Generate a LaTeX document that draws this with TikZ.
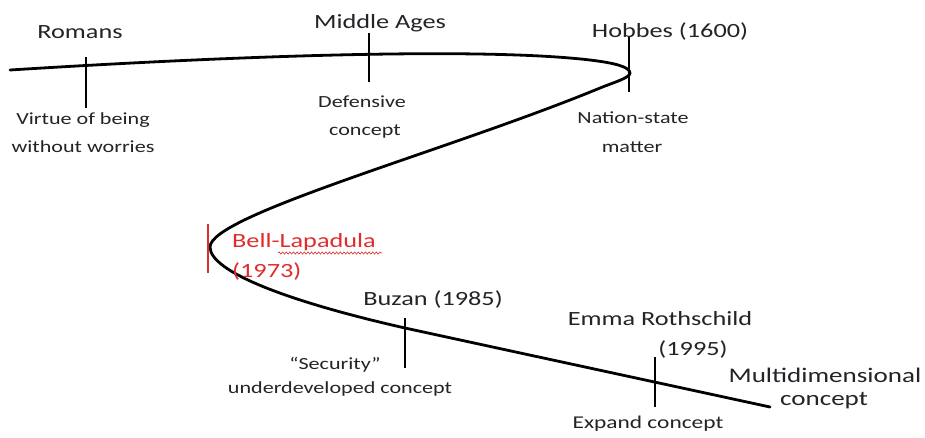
\documentclass[tikz,border=0pt]{standalone}
\usepackage{fontspec}
\setmainfont{Carlito}[FakeStretch=1.3]
\usetikzlibrary{decorations.pathmorphing}
\definecolor{ink}{RGB}{35,35,40}
\definecolor{alertred}{RGB}{222,45,45}
\begin{document}
\begin{tikzpicture}[x=1pt,y=-1pt,
  big/.style={font=\fontsize{20.2}{24}\selectfont, text=ink, inner sep=0pt, anchor=base},
  small/.style={font=\fontsize{17}{20}\selectfont, text=ink, inner sep=0pt, anchor=base},
  redlabel/.style={font=\fontsize{20.2}{24}\selectfont, text=alertred, inner sep=0pt, anchor=base west},
  history/.style={line width=2.8pt, black, line cap=round},
  tickmark/.style={line width=1.3pt, black},
  redtick/.style={line width=1.3pt, alertred},
  squiggle/.style={line width=0.6pt, alertred, decorate,
    decoration={snake, segment length=3.6pt, amplitude=1.1pt}}]

\fill[white] (0,0) rectangle (925,437);
\useasboundingbox (0,0) rectangle (925,437);

% the evolving meaning of security, drawn as one winding line
\coordinate (start) at (10,70);
\coordinate (upper) at (590,60);
\coordinate (tip) at (630,73);
\coordinate (turn) at (600,88);
\coordinate (left) at (210,247);
\coordinate (lower) at (405,328);
\coordinate (finish) at (770,407);
\draw[history] (start) .. controls (200,58) and (470,46) .. (upper)
  .. controls (615,63) and (630,67) .. (tip)
  .. controls (630,78) and (612,83) .. (turn)
  .. controls (450,150) and (210,215) .. (left)
  .. controls (210,272) and (290,302) .. (lower)
  .. controls (520,353) and (650,381) .. (finish);

% era markers
\coordinate (romansTop) at (86,57);      \coordinate (romansBot) at (86,108);
\coordinate (middleTop) at (369,33);     \coordinate (middleBot) at (369,82);
\coordinate (hobbesTop) at (629,36);     \coordinate (hobbesBot) at (629,92);
\coordinate (bellTop) at (208,224);      \coordinate (bellBot) at (208,273);
\coordinate (buzanTop) at (405,318);     \coordinate (buzanBot) at (405,368);
\coordinate (emmaTop) at (655,357);      \coordinate (emmaBot) at (655,407);
\draw[tickmark] (romansTop) -- (romansBot);
\draw[tickmark] (middleTop) -- (middleBot);
\draw[tickmark] (hobbesTop) -- (hobbesBot);
\draw[redtick]  (bellTop) -- (bellBot);
\draw[tickmark] (buzanTop) -- (buzanBot);
\draw[tickmark] (emmaTop) -- (emmaBot);

% periods and authors
\node[big] (romans) at (80,38) {Romans};
\node[big] (middle) at (380,28) {Middle Ages};
\node[big] (hobbes) at (670,37) {Hobbes (1600)};
\node[redlabel] (bell) at (232,247) {Bell-Lapadula};
\node[redlabel] (bellyear) at (232,277) {(1973)};
\draw[squiggle] (278,253) -- (382,253);
\node[big] (buzan) at (433,305) {Buzan (1985)};
\node[big] (emma) at (660,325) {Emma Rothschild};
\node[big] (emmayear) at (693,355) {(1995)};
\node[big, font=\fontsize{20.8}{24}\selectfont] (multi) at (825,382) {Multidimensional};
\node[big, font=\fontsize{20.8}{24}\selectfont] (multi2) at (824,405) {concept};

% what security meant
\node[small] (romansNote) at (83,124) {Virtue of being};
\node[small] (romansNote2) at (83,152) {without worries};
\node[small] (middleNote) at (362,107) {Defensive};
\node[small] (middleNote2) at (365,135) {concept};
\node[small] (hobbesNote) at (633,123) {Nation-state};
\node[small] (hobbesNote2) at (632,152) {matter};
\node[small] (buzanNote) at (335,369) {“Security”};
\node[small] (buzanNote2) at (340,393) {underdeveloped concept};
\node[small, font=\fontsize{18}{20}\selectfont] (emmaNote) at (648,428) {Expand concept};
\end{tikzpicture}
\end{document}
